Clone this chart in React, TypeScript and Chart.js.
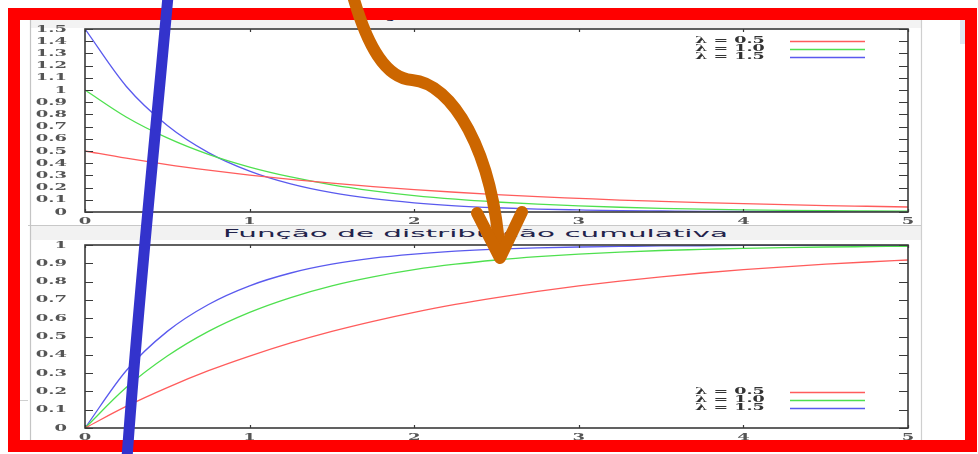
import React, { useEffect, useRef } from "react";
import { Chart, registerables } from "chart.js";

Chart.register(...registerables);

// Sample positions along x (0 .. 5)
const xValues = [
  0, 0.25, 0.5, 0.75, 1, 1.25, 1.5, 1.75, 2, 2.25, 2.5, 2.75, 3, 3.25, 3.5, 3.75, 4, 4.25, 4.5, 4.75, 5,
];

// Função densidade
const densityL05 = [
  0.5, 0.441, 0.389, 0.344, 0.303, 0.268, 0.236, 0.208, 0.184, 0.162, 0.143, 0.126, 0.112, 0.098, 0.087, 0.077, 0.068,
  0.06, 0.053, 0.047, 0.041,
];
const densityL10 = [
  1.0, 0.779, 0.607, 0.472, 0.368, 0.287, 0.223, 0.174, 0.135, 0.105, 0.082, 0.064, 0.05, 0.039, 0.03, 0.024, 0.018,
  0.014, 0.011, 0.009, 0.007,
];
const densityL15 = [
  1.5, 1.031, 0.709, 0.487, 0.335, 0.23, 0.158, 0.109, 0.075, 0.051, 0.035, 0.024, 0.017, 0.011, 0.008, 0.005, 0.004,
  0.003, 0.002, 0.001, 0.001,
];

// Função de distribuição cumulativa
const cumulativeL05 = [
  0, 0.118, 0.221, 0.313, 0.393, 0.465, 0.528, 0.583, 0.632, 0.675, 0.713, 0.747, 0.777, 0.803, 0.826, 0.847, 0.865,
  0.881, 0.895, 0.907, 0.918,
];
const cumulativeL10 = [
  0, 0.221, 0.393, 0.528, 0.632, 0.713, 0.777, 0.826, 0.865, 0.895, 0.918, 0.936, 0.95, 0.961, 0.97, 0.976, 0.982,
  0.986, 0.989, 0.991, 0.993,
];
const cumulativeL15 = [
  0, 0.313, 0.528, 0.675, 0.777, 0.847, 0.895, 0.928, 0.95, 0.966, 0.977, 0.984, 0.989, 0.992, 0.995, 0.996, 0.998,
  0.998, 0.999, 0.999, 0.999,
];

const seriesLabels = ["λ = 0.5", "λ = 1.0", "λ = 1.5"];
const seriesColors = ["#ff5c5c", "#4fe04f", "#5a5aee"];

const xTicks = [0, 1, 2, 3, 4, 5];
const densityTicks = [0, 0.1, 0.2, 0.3, 0.4, 0.5, 0.6, 0.7, 0.8, 0.9, 1, 1.1, 1.2, 1.3, 1.4, 1.5];
const cumulativeTicks = [0, 0.1, 0.2, 0.3, 0.4, 0.5, 0.6, 0.7, 0.8, 0.9, 1];

const densityTitle = "Função densidade";
const cumulativeTitle = "Função de distribuição cumulativa";

function wideText(ctx: CanvasRenderingContext2D, text: string, x: number, y: number, align: CanvasTextAlign, sx: number) {
  ctx.save();
  ctx.translate(x, y);
  ctx.scale(sx, 1);
  ctx.textAlign = align;
  ctx.textBaseline = "middle";
  ctx.fillText(text, 0, 0);
  ctx.restore();
}

// gnuplot-like frame: closed border, inward ticks, wide serif labels, key in a corner
const gnuplotFrame = {
  id: "gnuplotFrame",
  afterDraw(chart: any, _args: any, opts: any) {
    const ctx: CanvasRenderingContext2D = chart.ctx;
    const { left, right, top, bottom } = chart.chartArea;
    const xs = chart.scales.x;
    const ys = chart.scales.y;
    ctx.save();
    ctx.strokeStyle = "#3a3a3a";
    ctx.lineWidth = 1.6;
    ctx.strokeRect(left, top, right - left, bottom - top);

    ctx.lineWidth = 1.2;
    ctx.beginPath();
    ys.ticks.forEach((t: any) => {
      const py = Math.round(ys.getPixelForValue(t.value)) + 0.5;
      ctx.moveTo(left, py);
      ctx.lineTo(left + 8, py);
      ctx.moveTo(right, py);
      ctx.lineTo(right - 9, py);
    });
    xs.ticks.forEach((t: any) => {
      const px = Math.round(xs.getPixelForValue(t.value)) + 0.5;
      ctx.moveTo(px, bottom);
      ctx.lineTo(px, bottom - 3);
      ctx.moveTo(px, top);
      ctx.lineTo(px, top + 3);
    });
    ctx.stroke();

    ctx.fillStyle = "#555";
    ctx.font = "bold 10px 'DejaVu Serif'";
    ys.ticks.forEach((t: any) => {
      wideText(ctx, String(t.value), left - 18, ys.getPixelForValue(t.value), "right", 1.8);
    });
    xs.ticks.forEach((t: any) => {
      wideText(ctx, String(t.value), xs.getPixelForValue(t.value), bottom + 9, "center", 1.8);
    });

    // key
    ctx.font = "bold 9px 'DejaVu Serif'";
    chart.data.datasets.forEach((ds: any, i: number) => {
      const rowY = Math.round(opts.keyTop ? top + 12 + i * 8 : bottom - 36 + i * 8);
      ctx.fillStyle = "#333";
      wideText(ctx, ds.label, right - 213, rowY, "left", 1.95);
      ctx.strokeStyle = ds.borderColor;
      ctx.lineWidth = 1.4;
      ctx.beginPath();
      ctx.moveTo(right - 118, rowY + 0.5);
      ctx.lineTo(right - 43, rowY + 0.5);
      ctx.stroke();
    });
    ctx.restore();
  },
};

function makeConfig(series: number[][], yTicks: number[], yMax: number, padTop: number, axisH: number, keyTop: boolean): any {
  return {
    type: "line",
    data: {
      datasets: series.map((vals, i) => ({
        label: seriesLabels[i],
        data: xValues.map((x, j) => ({ x, y: vals[j] })),
        borderColor: seriesColors[i],
        borderWidth: 1.3,
        pointRadius: 0,
        fill: false,
        cubicInterpolationMode: "monotone",
      })),
    },
    options: {
      animation: false,
      responsive: false,
      maintainAspectRatio: false,
      devicePixelRatio: 1,
      events: [],
      layout: { padding: { top: padTop, right: 57, left: 0, bottom: 0 } },
      plugins: {
        legend: { display: false },
        tooltip: { enabled: false },
        title: { display: false },
        gnuplotFrame: { keyTop },
      },
      scales: {
        x: {
          type: "linear",
          min: 0,
          max: 5,
          grid: { display: false },
          border: { display: false },
          ticks: { display: false },
          afterBuildTicks: (s: any) => {
            s.ticks = xTicks.map((v) => ({ value: v }));
          },
          afterFit: (s: any) => {
            s.height = axisH;
          },
        },
        y: {
          type: "linear",
          min: 0,
          max: yMax,
          grid: { display: false },
          border: { display: false },
          ticks: { display: false },
          afterBuildTicks: (s: any) => {
            s.ticks = yTicks.map((v) => ({ value: v }));
          },
          afterFit: (s: any) => {
            s.width = 65;
          },
        },
      },
    },
    plugins: [gnuplotFrame],
  };
}

export default function App() {
  const topRef = useRef<HTMLCanvasElement>(null);
  const bottomRef = useRef<HTMLCanvasElement>(null);

  useEffect(() => {
    const top = new Chart(
      topRef.current!,
      makeConfig([densityL05, densityL10, densityL15], densityTicks, 1.5, 9, 13, true)
    );
    const bottom = new Chart(
      bottomRef.current!,
      makeConfig([cumulativeL05, cumulativeL10, cumulativeL15], cumulativeTicks, 1, 5, 26, false)
    );
    return () => {
      top.destroy();
      bottom.destroy();
    };
  }, []);

  return (
    <div style={{ position: "fixed", left: 0, top: 0, width: 978, height: 454, background: "#fff", overflow: "hidden" }}>
      <svg width={978} height={454} style={{ position: "absolute", left: 0, top: 0 }}>
        <rect x={20} y={20} width={945} height={420} fill="#ffffff" />
        <rect x={30} y={20} width={891} height={8} fill="#f3f3f3" />
        <rect x={30} y={226} width={891} height={14} fill="#f2f2f2" />
        <line x1={28} y1={225.5} x2={921} y2={225.5} stroke="#c8c8c8" strokeWidth={1} />
        <line x1={30.5} y1={20} x2={30.5} y2={440} stroke="#c4c4c4" strokeWidth={1.2} />
        <line x1={921.5} y1={20} x2={921.5} y2={440} stroke="#cfcfcf" strokeWidth={1.2} />
        <line x1={20} y1={400.5} x2={28} y2={400.5} stroke="#d0d0d0" strokeWidth={1} />
        <rect x={960} y={20} width={5} height={24} fill="#dfe7f1" />
        <text
          x={323}
          y={18}
          textLength={290}
          lengthAdjust="spacingAndGlyphs"
          fontFamily="'DejaVu Sans'"
          fontSize={12}
          fill="#22224a"
        >
          {densityTitle}
        </text>
        <text
          x={223}
          y={237}
          textLength={505}
          lengthAdjust="spacingAndGlyphs"
          fontFamily="'DejaVu Sans'"
          fontSize={11}
          fill="#22224a"
        >
          {cumulativeTitle}
        </text>
      </svg>
      <canvas ref={topRef} width={945} height={205} style={{ position: "absolute", left: 20, top: 20, width: 945, height: 205 }} />
      <canvas ref={bottomRef} width={945} height={214} style={{ position: "absolute", left: 20, top: 240, width: 945, height: 214 }} />
      <svg width={978} height={454} style={{ position: "absolute", left: 0, top: 0 }}>
        <rect x={14} y={14} width={957} height={432} fill="none" stroke="#ff0000" strokeWidth={12} />
        <path d="M168,-4 C157,120 139,290 127,458" fill="none" stroke="#3333cc" strokeWidth={11} strokeLinecap="round" />
        <path
          d="M353,-4 C367,45 385,78 412,80 C452,83 493,150 500,256"
          fill="none"
          stroke="#cc6600"
          strokeWidth={12}
          strokeLinecap="round"
        />
        <path
          d="M477,213 L500,258 L522,212"
          fill="none"
          stroke="#cc6600"
          strokeWidth={12}
          strokeLinecap="round"
          strokeLinejoin="round"
        />
      </svg>
    </div>
  );
}
